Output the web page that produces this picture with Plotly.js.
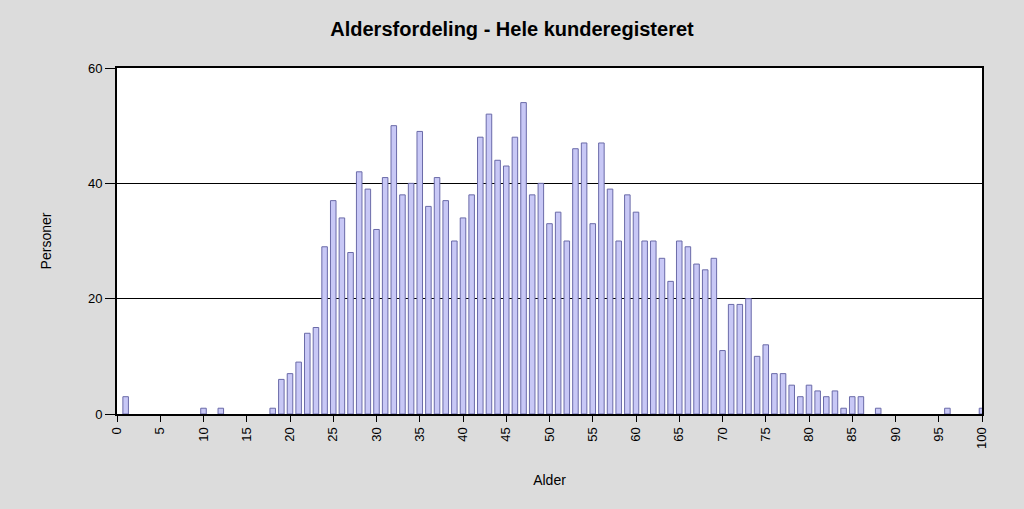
<!DOCTYPE html>
<html>
<head>
<meta charset="utf-8">
<script src="https://cdn.plot.ly/plotly-3.0.1.min.js"></script>
<style>html,body{margin:0;padding:0;background:#dcdcdc;}#chart{width:1024px;height:509px;}</style>
</head>
<body>
<div id="chart"></div>
<script>
const ages = [1, 10, 12, 18, 19, 20, 21, 22, 23, 24, 25, 26, 27, 28, 29, 30, 31, 32, 33, 34, 35, 36, 37, 38, 39, 40,
  41, 42, 43, 44, 45, 46, 47, 48, 49, 50, 51, 52, 53, 54, 55, 56, 57, 58, 59, 60,
  61, 62, 63, 64, 65, 66, 67, 68, 69, 70, 71, 72, 73, 74, 75, 76, 77, 78, 79, 80,
  81, 82, 83, 84, 85, 86, 88, 96, 100];
const persons = [3, 1, 1, 1, 6, 7, 9, 14, 15, 29, 37, 34, 28, 42, 39, 32, 41, 50, 38, 40, 49, 36, 41, 37, 30, 34,
  38, 48, 52, 44, 43, 48, 54, 38, 40, 33, 35, 30, 46, 47, 33, 47, 39, 30, 38, 35,
  30, 30, 27, 23, 30, 29, 26, 25, 27, 11, 19, 19, 20, 10, 12, 7, 7, 5, 3, 5,
  4, 3, 4, 1, 3, 3, 1, 1, 1];
const xTicks = [0,5,10,15,20,25,30,35,40,45,50,55,60,65,70,75,80,85,90,95,100];
const yTicks = [0,20,40,60];

const font = 'Liberation Sans, Arial, sans-serif';
Plotly.newPlot('chart', [{
  type: 'bar',
  x: ages,
  y: persons,
  width: 0.64,
  marker: {color: '#c8c8f6', line: {color: '#6a6aa8', width: 1}},
  hoverinfo: 'x+y'
}], {
  width: 1024, height: 509,
  paper_bgcolor: '#dcdcdc',
  plot_bgcolor: '#ffffff',
  margin: {l: 117, r: 42, t: 68, b: 95},
  showlegend: false,
  title: {text: '<b>Aldersfordeling - Hele kunderegisteret</b>', font: {family: font, size: 20, color: '#000'},
          x: 0.5, xref: 'container', xanchor: 'center', y: 1 - 29/509, yref: 'container', yanchor: 'middle'},
  xaxis: {
    range: [0, 100], tickvals: xTicks, ticktext: xTicks.map(String), tickangle: -90,
    ticks: 'outside', ticklen: 6, tickcolor: '#000', tickwidth: 1,
    showgrid: false, zeroline: false,
    showline: true, linecolor: '#000', linewidth: 2, mirror: true,
    tickfont: {family: font, size: 13, color: '#000'},
    title: {text: 'Alder', font: {family: font, size: 14, color: '#000'}, standoff: 27}
  },
  yaxis: {
    range: [0, 60], tickvals: yTicks, ticktext: yTicks.map(String),
    ticks: 'outside', ticklen: 10, tickcolor: '#000', tickwidth: 1,
    showgrid: true, gridcolor: '#000', gridwidth: 1.5, zeroline: false,
    showline: true, linecolor: '#000', linewidth: 2, mirror: true,
    tickfont: {family: font, size: 13, color: '#000'},
    title: {text: 'Personer', font: {family: font, size: 14, color: '#000'}, standoff: 33}
  },
  bargap: 0.36
}, {displayModeBar: false, staticPlot: true});
</script>
</body>
</html>
